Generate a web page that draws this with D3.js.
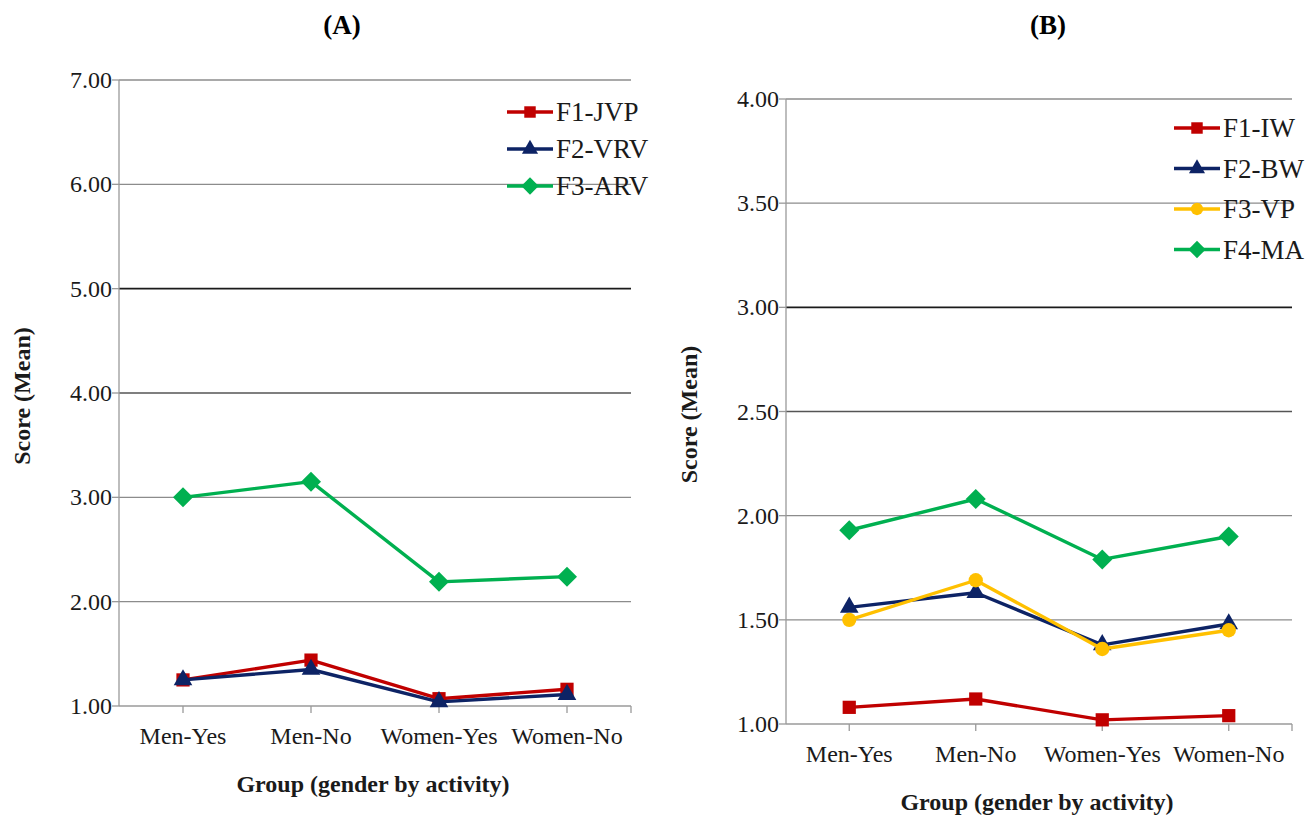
<!DOCTYPE html>
<html lang="en">
<head>
    <meta charset="UTF-8">
    <title>Score by group</title>
    <script src="https://d3js.org/d3.v7.min.js"></script>
    <style>
        body { margin: 0; background: #fff; }
    </style>
</head>
<body>
<svg width="1313" height="816"></svg>
<script>
    // categories shared by both panels
    const groups = ["Men-Yes", "Men-No", "Women-Yes", "Women-No"];

    // panel A values
    const seriesA = ["F1-JVP", "F2-VRV", "F3-ARV"];
    const jvp = [1.25, 1.44, 1.07, 1.16];
    const vrv = [1.25, 1.35, 1.04, 1.11];
    const arv = [3.00, 3.15, 2.19, 2.24];
    const ticksA = [1, 2, 3, 4, 5, 6, 7];

    // panel B values
    const seriesB = ["F1-IW", "F2-BW", "F3-VP", "F4-MA"];
    const iw = [1.08, 1.12, 1.02, 1.04];
    const bw = [1.56, 1.63, 1.38, 1.48];
    const vp = [1.50, 1.69, 1.36, 1.45];
    const ma = [1.93, 2.08, 1.79, 1.90];
    const ticksB = [1, 1.5, 2, 2.5, 3, 3.5, 4];

    const RED = "#c00000", NAVY = "#0d2365", YELLOW = "#ffc000", GREEN = "#00b050";
    const SERIF = "'Liberation Serif', 'Times New Roman', Times, serif";

    let svg = d3.select("svg");

    function label(g, cls) {
        let t = g.append("text").attr("font-family", SERIF).attr("fill", "#1a1a1a");
        if (cls == "title") t.attr("font-size", 27).attr("font-weight", "bold").attr("fill", "#000");
        if (cls == "axis") t.attr("font-size", 24).attr("font-weight", "bold");
        if (cls == "tick") t.attr("font-size", 24);
        if (cls == "legend") t.attr("font-size", 27);
        return t;
    }

    // diamond = square turned 45 degrees (Excel style, not the tall d3 diamond)
    function marker(sel, type, size) {
        let rot = type == "diamond" ? 45 : 0;
        let sym = { square: d3.symbolSquare, diamond: d3.symbolSquare,
                    triangle: d3.symbolTriangle, circle: d3.symbolCircle }[type];
        return sel.attr("d", d3.symbol().type(sym).size(size)())
            .attr("data-rot", rot);
    }

    function drawPanel(p) {
        let g = svg.append("g");
        let x = d3.scaleBand().domain(groups).range([p.left, p.right]);
        let y = d3.scaleLinear().domain([p.ticks[0], p.ticks[p.ticks.length - 1]]).range([p.bottom, p.top]);
        let cx = d => x(d) + x.bandwidth() / 2;

        // gridlines
        g.selectAll(".grid").data(p.ticks.slice(1)).enter().append("line")
            .attr("x1", p.left).attr("x2", p.right)
            .attr("y1", d => y(d)).attr("y2", d => y(d))
            .attr("stroke", d => p.dark[d] || "#8c8c8c")
            .attr("stroke-width", d => p.dark[d] ? 1.6 : 1.3);

        // y axis
        g.append("line").attr("x1", p.left).attr("x2", p.left)
            .attr("y1", y.range()[0]).attr("y2", y.range()[1])
            .attr("stroke", "#9a9a9a").attr("stroke-width", 1.3);
        g.selectAll(".ytick").data(p.ticks).enter().append("line")
            .attr("x1", p.left - 7).attr("x2", p.left)
            .attr("y1", d => y(d)).attr("y2", d => y(d))
            .attr("stroke", "#9a9a9a").attr("stroke-width", 1.3);
        p.ticks.forEach(function (d) {
            label(g, "tick").attr("x", p.left - 7).attr("y", y(d) + 8)
                .attr("text-anchor", "end").text(d3.format(".2f")(d));
        });

        // x axis
        g.append("line").attr("x1", p.left).attr("x2", p.right)
            .attr("y1", p.bottom).attr("y2", p.bottom)
            .attr("stroke", "#9a9a9a").attr("stroke-width", 1.3);
        let xt = groups.map(cx).concat([p.right]);
        g.selectAll(".xtick").data(xt).enter().append("line")
            .attr("x1", d => d).attr("x2", d => d)
            .attr("y1", p.bottom).attr("y2", p.bottom + 7)
            .attr("stroke", "#9a9a9a").attr("stroke-width", 1.3);
        groups.forEach(function (d) {
            label(g, "tick").attr("x", cx(d)).attr("y", p.bottom + 38)
                .attr("text-anchor", "middle").text(d);
        });

        // titles
        label(g, "title").attr("x", p.titleX).attr("y", 34).attr("text-anchor", "middle").text(p.title);
        label(g, "axis")
            .attr("transform", `translate(${p.yTitleX},${(p.top + p.bottom) / 2 + 3}) rotate(-90)`)
            .attr("text-anchor", "middle").text("Score (Mean)");
        label(g, "axis").attr("x", (p.left + p.right) / 2 - 2).attr("y", p.xTitleY)
            .attr("text-anchor", "middle").text("Group (gender by activity)");

        // lines + markers
        let line = d3.line().x((d, i) => cx(groups[i])).y(d => y(d));
        p.series.forEach(function (s) {
            g.append("path").datum(s.values)
                .attr("d", line)
                .attr("fill", "none").attr("stroke", s.color)
                .attr("stroke-width", 3.4).attr("stroke-linejoin", "round");
            g.selectAll(null).data(s.values).enter().append("path")
                .call(marker, s.symbol, s.size)
                .attr("transform", function (d, i) {
                    return `translate(${cx(groups[i])},${y(d)}) rotate(${this.getAttribute("data-rot")})`;
                })
                .attr("fill", s.color);
        });

        // legend
        p.series.forEach(function (s, i) {
            let ly = p.legendY + i * p.legendStep;
            g.append("line").attr("x1", p.legendX).attr("x2", p.legendX + 46)
                .attr("y1", ly).attr("y2", ly)
                .attr("stroke", s.color).attr("stroke-width", 3.4);
            let m = g.append("path").call(marker, s.symbol, s.size * 0.75);
            m.attr("transform", `translate(${p.legendX + 23},${ly}) rotate(${m.attr("data-rot")})`)
                .attr("fill", s.color);
            label(g, "legend").attr("x", p.legendX + 49).attr("y", ly + 9).text(s.name);
        });
    }

    drawPanel({
        title: "(A)", titleX: 342,
        left: 119, right: 631, top: 80, bottom: 706,
        ticks: ticksA, dark: { 5: "#1a1a1a", 4: "#555" },
        yTitleX: 30, xTitleY: 792,
        legendX: 507, legendY: 112, legendStep: 37,
        series: [
            { name: seriesA[0], values: jvp, color: RED, symbol: "square", size: 175 },
            { name: seriesA[1], values: vrv, color: NAVY, symbol: "triangle", size: 150 },
            { name: seriesA[2], values: arv, color: GREEN, symbol: "diamond", size: 200 }
        ]
    });

    drawPanel({
        title: "(B)", titleX: 1048,
        left: 786, right: 1292, top: 99, bottom: 724,
        ticks: ticksB, dark: { 3: "#1a1a1a", 2.5: "#555" },
        yTitleX: 697, xTitleY: 810,
        legendX: 1174, legendY: 128, legendStep: 40.5,
        series: [
            { name: seriesB[0], values: iw, color: RED, symbol: "square", size: 175 },
            { name: seriesB[1], values: bw, color: NAVY, symbol: "triangle", size: 150 },
            { name: seriesB[2], values: vp, color: YELLOW, symbol: "circle", size: 160 },
            { name: seriesB[3], values: ma, color: GREEN, symbol: "diamond", size: 200 }
        ]
    });
</script>
</body>
</html>
